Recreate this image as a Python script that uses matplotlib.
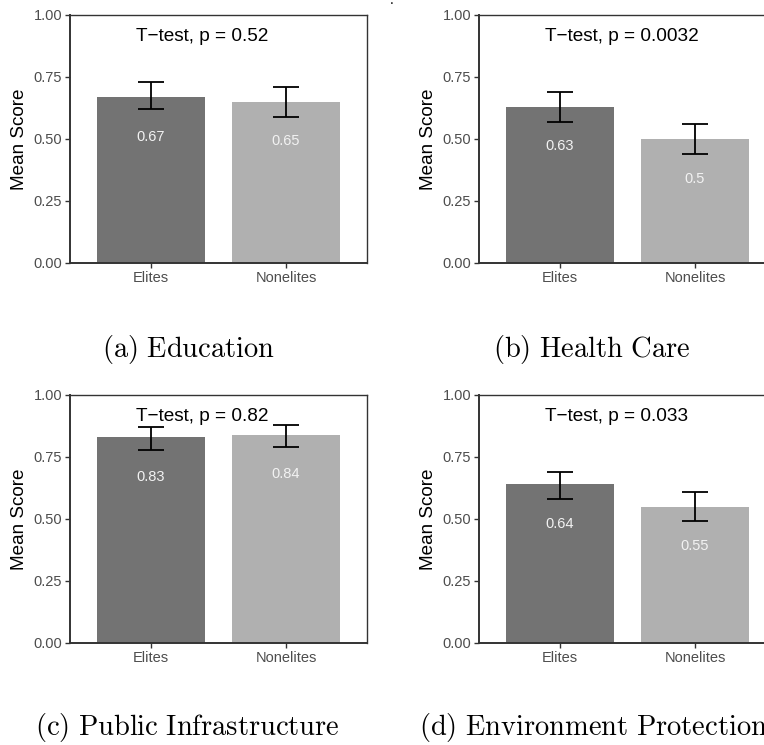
import numpy as np
import matplotlib.pyplot as plt

plt.rcParams['font.family'] = ['Liberation Sans', 'DejaVu Sans']
plt.rcParams['mathtext.fontset'] = 'cm'

# data
topics = ['Education', 'Health Care', 'Public Infrastructure', 'Environment Protection']
tags = ['a', 'b', 'c', 'd']
groups = ['Elites', 'Nonelites']
elite_mean = [0.67, 0.63, 0.83, 0.64]
nonelite_mean = [0.65, 0.50, 0.84, 0.55]
elite_lo = [0.62, 0.57, 0.78, 0.58]
elite_hi = [0.73, 0.69, 0.87, 0.69]
nonelite_lo = [0.59, 0.44, 0.79, 0.49]
nonelite_hi = [0.71, 0.56, 0.88, 0.61]
p_values = ['0.52', '0.0032', '0.82', '0.033']

bar_colors = ['#737373', '#b0b0b0']
W, H = 764, 745

fig = plt.figure(figsize=(W / 100, H / 100), dpi=100)


def px_axes(x0, y0, x1, y1):
    """axes from pixel box (top-left origin)"""
    return fig.add_axes([x0 / W, 1 - y1 / H, (x1 - x0) / W, (y1 - y0) / H])


def px_text(x, y, s, **kw):
    fig.text(x / W, 1 - y / H, s, **kw)


boxes = [(70, 15, 367, 263), (479, 15, 776, 263),
         (70, 395, 367, 643), (479, 395, 776, 643)]
caption_pos = [(102, 350), (493, 350), (35, 728), (419, 728)]

for i in range(4):
    ax = px_axes(*boxes[i])
    xs = np.array([1, 2])
    means = [elite_mean[i], nonelite_mean[i]]
    lo = [elite_lo[i], nonelite_lo[i]]
    hi = [elite_hi[i], nonelite_hi[i]]

    ax.bar(xs, means, width=0.8, color=bar_colors, zorder=1)
    yerr = [np.subtract(means, lo), np.subtract(hi, means)]
    ax.errorbar(xs, means, yerr=yerr, fmt='none', ecolor='black',
                elinewidth=1.3, capsize=9.7, capthick=1.3, zorder=3)
    for x, m in zip(xs, means):
        ax.text(x, m - 0.16, '{:g}'.format(m), ha='center', va='center',
                color='#f2f2f2', fontsize=10.5, zorder=4)
    ax.text(0.89, 0.915, 'T\u2212test, p = ' + p_values[i], ha='left',
            va='center', fontsize=13.7, color='black', zorder=2)

    ax.set_xlim(0.4, 2.6)
    ax.set_ylim(0, 1)
    ax.set_xticks(xs)
    ax.set_xticklabels(groups)
    ax.set_yticks([0, 0.25, 0.5, 0.75, 1.0])
    ax.set_yticklabels(['0.00', '0.25', '0.50', '0.75', '1.00'])
    ax.tick_params(labelsize=10.5, labelcolor='#4d4d4d', color='#333333',
                   length=3.5, width=1.0, pad=2)
    ax.set_ylabel('Mean Score', fontsize=13.6, labelpad=4)
    for sp in ax.spines.values():
        sp.set_color('#333333')
        sp.set_linewidth(1.0)
    ax.spines['bottom'].set_linewidth(1.4)
    ax.spines['left'].set_linewidth(1.4)

    cx, cy = caption_pos[i]
    cap = r'$\mathrm{(%s)\ %s}$' % (tags[i], topics[i].replace(' ', r'\ '))
    px_text(cx, cy, cap, ha='left', va='center', fontsize=20.5)

# stray dot at the top of the page
px_text(392, 4.5, '.', ha='center', va='baseline', fontsize=10)

fig.savefig('out.png', dpi=100)
